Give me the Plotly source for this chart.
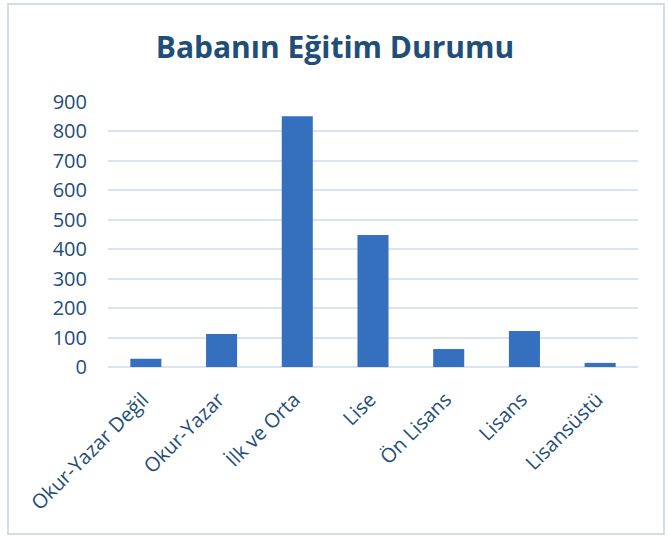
import plotly.graph_objects as go

categories = ["Okur-Yazar Değil", "Okur-Yazar", "İlk ve Orta", "Lise", "Ön Lisans", "Lisans", "Lisansüstü"]
values = [28, 112, 852, 448, 61, 122, 14]
y_ticks = [0, 100, 200, 300, 400, 500, 600, 700, 800, 900]

W, H = 668, 537
L, R, T, B = 108, 30, 102, 170
pw, ph = W - L - R, H - T - B

fig = go.Figure()
fig.add_trace(go.Bar(
    x=categories, y=values,
    marker=dict(color="#3470BE", line=dict(width=0)),
    hoverinfo="x+y",
))

def px_x(p):
    return (p - L) / pw

def px_y(p):
    return (H - B - p) / ph

fig.update_layout(
    width=W, height=H,
    margin=dict(l=L, r=R, t=T, b=B),
    paper_bgcolor="white", plot_bgcolor="white",
    bargap=0.59,
    showlegend=False,
    title=dict(text="<b>Babanın Eğitim Durumu</b>", x=335 / W, xanchor="center",
               y=1 - 47 / H, yanchor="middle", xref="container", yref="container",
               font=dict(family="Open Sans", size=30, color="#1F4E79")),
    font=dict(family="Open Sans", size=20, color="#1F4E79"),
    xaxis=dict(tickangle=-45, showgrid=False, showline=False, ticks="",
               automargin=False, ticklabelstandoff=16, ticklabelshift=-3,
               tickfont=dict(family="Open Sans", size=20, color="#1F4E79")),
    yaxis=dict(range=[0, 900], tickvals=y_ticks, showgrid=True, gridcolor="#D9E3F1",
               gridwidth=2, zeroline=True, zerolinecolor="#D9E3F1", zerolinewidth=2,
               showline=False, ticks="", ticklabelstandoff=20, automargin=False,
               tickfont=dict(family="Open Sans", size=20, color="#1F4E79")),
    shapes=[dict(type="rect", xref="paper", yref="paper",
                 x0=px_x(8), x1=px_x(664), y0=px_y(534), y1=px_y(4),
                 line=dict(color="#D6DCE5", width=2), fillcolor="rgba(0,0,0,0)", layer="below")],
)

fig.write_html("out.html", config={"displayModeBar": False},
               post_script="document.body.style.margin='0';document.body.style.overflow='hidden';")
